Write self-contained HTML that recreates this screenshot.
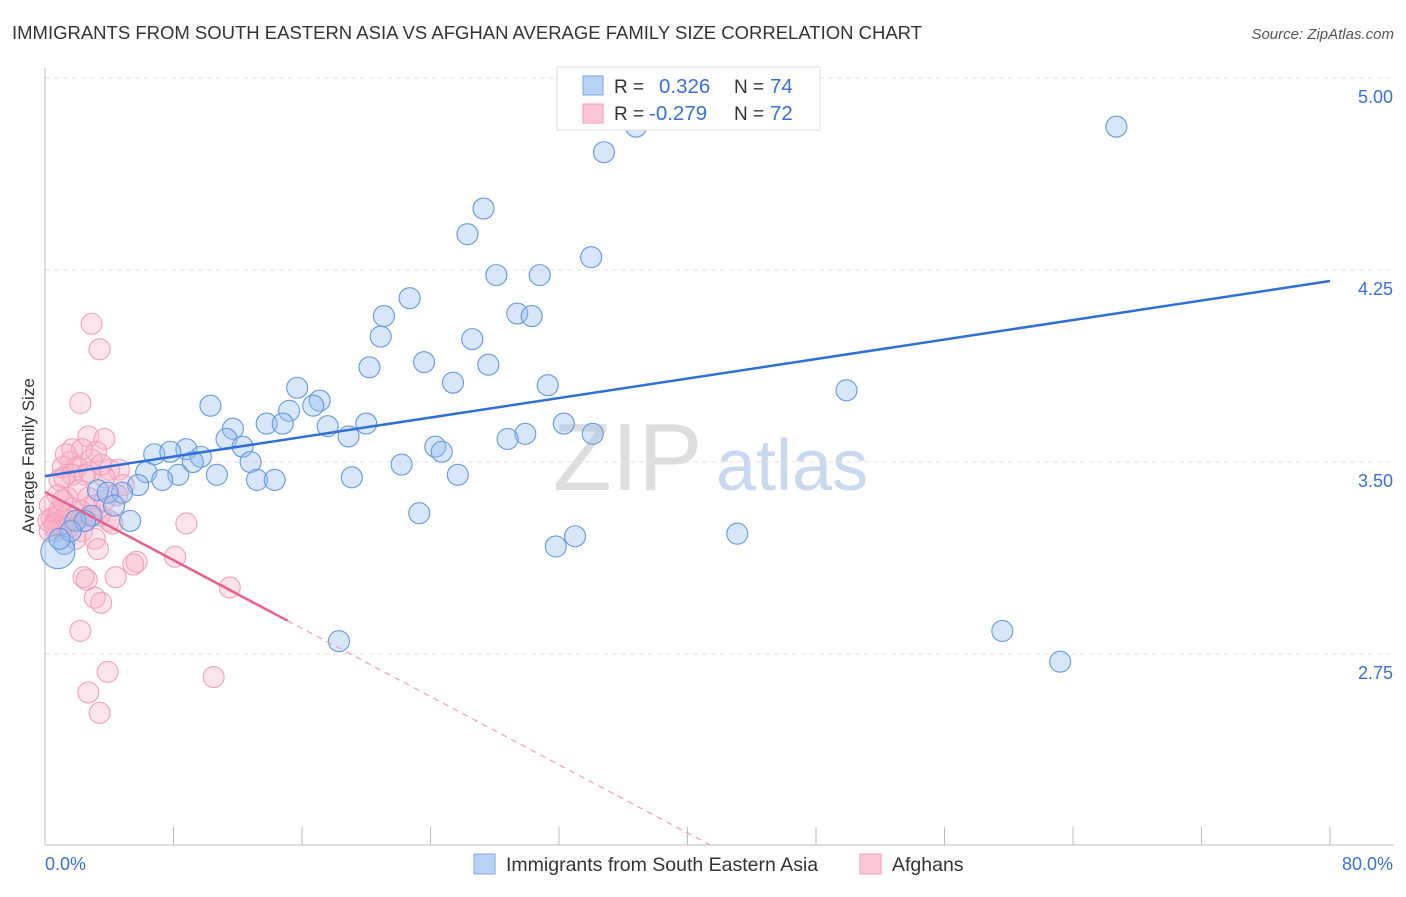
<!DOCTYPE html>
<html><head><meta charset="utf-8"><style>
body{margin:0;background:#fff;font-family:"Liberation Sans",sans-serif;}
svg text{font-family:"Liberation Sans",sans-serif;}
</style></head><body>
<svg id="chart" width="1406" height="892" xmlns="http://www.w3.org/2000/svg">
<text x="12" y="39" font-size="18.6" fill="#333" textLength="910" lengthAdjust="spacingAndGlyphs">IMMIGRANTS FROM SOUTH EASTERN ASIA VS AFGHAN AVERAGE FAMILY SIZE CORRELATION CHART</text>
<text x="1394" y="39" font-size="15" fill="#555" font-style="italic" text-anchor="end">Source: ZipAtlas.com</text>
<text x="553" y="490" font-size="96" fill="#ddd" font-family="Liberation Serif">ZIP</text>
<text x="716" y="490" font-size="72" fill="#c8d8ee">atlas</text>
<text transform="translate(34,456) rotate(-90)" font-size="17" fill="#333" text-anchor="middle">Average Family Size</text>
<g id="grid"></g><g id="axes"></g><g id="pts"></g><g id="lines"></g>
<g>
<rect x="557" y="67" width="263" height="63" fill="#fff" stroke="#ddd"/>
<rect x="583" y="76" width="20" height="19" fill="#b8d2f4" stroke="#7aa6e6"/>
<rect x="583" y="104" width="20" height="19" fill="#fcc6d6" stroke="#f09ab5"/>
<text x="614" y="93" font-size="19" fill="#333">R =</text><text x="659" y="93" font-size="20.5" fill="#3a6fd8">0.326</text>
<text x="734" y="93" font-size="19" fill="#333">N =</text><text x="770" y="93" font-size="20.5" fill="#3a6fd8">74</text>
<text x="614" y="120" font-size="19" fill="#333">R =</text><text x="649" y="120" font-size="20.5" fill="#3a6fd8">-0.279</text>
<text x="734" y="120" font-size="19" fill="#333">N =</text><text x="770" y="120" font-size="20.5" fill="#3a6fd8">72</text>
</g>
<g>
<rect x="474" y="854" width="21" height="20" fill="#b8d2f4" stroke="#7aa6e6"/>
<text x="506" y="871" font-size="19.5" fill="#333">Immigrants from South Eastern Asia</text>
<rect x="860" y="854" width="21" height="20" fill="#fcc6d6" stroke="#f09ab5"/>
<text x="892" y="871" font-size="19.5" fill="#333">Afghans</text>
</g>
<text x="45" y="870" font-size="18" fill="#3a6fd8">0.0%</text>
<text x="1393" y="870" font-size="18" fill="#3a6fd8" text-anchor="end">80.0%</text>
</svg>
<script>
const yTicks=[5.00,4.25,3.50,2.75];
const blueX=[36.8,66.7,34.8,27.3,26.3,34.0,28.1,30.8,22.7,21.1,29.4,30.3,20.9,26.6,23.6,27.6,20.2,25.4,31.3,49.9,15.7,17.1,16.7,10.3,15.2,13.8,14.8,20.0,17.6,11.7,32.3,34.1,29.9,11.3,18.9,28.8,24.3,24.7,8.8,6.8,7.8,12.3,9.7,9.2,12.8,22.2,6.3,10.7,8.3,7.3,19.1,25.7,13.2,14.3,5.8,3.3,4.8,3.9,4.3,23.3,2.9,5.3,1.9,43.1,33.0,31.8,1.2,0.8,59.6,63.2,18.3,2.5,1.6,0.9];
const blueY=[4.81,4.81,4.71,4.49,4.39,4.30,4.23,4.23,4.14,4.07,4.08,4.07,3.99,3.98,3.89,3.88,3.87,3.81,3.80,3.78,3.79,3.74,3.72,3.72,3.70,3.65,3.65,3.65,3.64,3.63,3.65,3.61,3.61,3.59,3.60,3.59,3.56,3.54,3.55,3.53,3.54,3.56,3.52,3.50,3.50,3.49,3.46,3.45,3.45,3.43,3.44,3.45,3.43,3.43,3.41,3.39,3.38,3.38,3.33,3.30,3.29,3.27,3.27,3.22,3.21,3.17,3.18,3.15,2.84,2.72,2.80,3.27,3.23,3.20];
const pinkX=[2.9,3.4,2.2,2.7,3.7,1.7,3.2,2.3,1.6,2.9,4.0,4.6,2.0,1.1,1.2,1.7,2.5,3.7,0.9,2.8,1.4,2.7,0.8,0.3,1.7,3.1,2.2,0.8,0.4,1.2,0.2,0.6,1.1,1.6,0.7,2.5,3.4,4.0,4.9,4.2,8.8,0.6,3.1,3.3,8.1,5.7,5.5,2.4,2.6,4.4,3.1,3.5,11.5,2.2,3.9,10.5,2.7,3.4,1.4,1.9,0.9,0.3,2.1,1.3,3.5,1.9,2.8,1.1,2.3,3.7,4.5];
const pinkY=[4.04,3.94,3.73,3.60,3.59,3.55,3.54,3.55,3.50,3.51,3.47,3.47,3.48,3.48,3.44,3.45,3.45,3.44,3.43,3.46,3.36,3.36,3.37,3.33,3.32,3.33,3.31,3.29,3.28,3.28,3.27,3.26,3.25,3.27,3.23,3.27,3.29,3.27,3.41,3.26,3.26,3.25,3.20,3.16,3.13,3.11,3.10,3.05,3.04,3.05,2.97,2.95,3.01,2.84,2.68,2.66,2.60,2.52,3.24,3.20,3.31,3.23,3.39,3.53,3.49,3.27,3.29,3.35,3.23,3.35,3.37];
const blueTrend=[3.445,4.207];
const pinkTrend=[3.383,-0.0333];
const NS='http://www.w3.org/2000/svg';
const X0=45,X1=1330,YB=845;
function sx(p){return X0+(X1-X0)*p/80;}
function sy(v){return 462-(v-3.5)*256;}
function mk(tag,attrs,parent){const e=document.createElementNS(NS,tag);for(const k in attrs)e.setAttribute(k,attrs[k]);document.getElementById(parent).appendChild(e);return e;}
yTicks.forEach(t=>{
 const g=mk('line',{x1:X0,x2:1394,y1:sy(t),y2:sy(t),stroke:'#e2e2e2','stroke-dasharray':'5,4'},'grid');
 
 
 const l=mk('text',{x:1393,y:sy(t)+25,'font-size':18,fill:'#3a6fd8','text-anchor':'end'},'grid');
 l.textContent=t.toFixed(2);
 
 
});
const ax=mk('line',{x1:X0,x2:X0,y1:68,y2:YB,stroke:'#bbb'},'axes');


const bx=mk('line',{x1:X0,x2:1394,y1:YB,y2:YB,stroke:'#bbb'},'axes');


for(let i=0;i<=10;i++){const t=mk('line',{x1:sx(i*8),x2:sx(i*8),y1:YB,y2:YB-18,stroke:'#bbb'},'axes');
 
 }
function dots(xs,ys,fill,stroke,name){xs.forEach((x,i)=>{
 const big=(name==='blue-point'&&i===67);
 const c=mk('circle',{cx:sx(x),cy:sy(ys[i]),r:big?17:10.5,fill:fill,stroke:stroke,'stroke-width':1.1},'pts');
 
 
});}
dots(pinkX,pinkY,'rgba(248,175,198,0.35)','#f2a0b9','pink-point');
dots(blueX,blueY,'rgba(150,190,240,0.38)','#6498de','blue-point');
const bl=mk('line',{x1:sx(0),y1:sy(blueTrend[0]),x2:sx(80),y2:sy(blueTrend[1]),stroke:'#2f6fd6','stroke-width':2.5},'lines');


const pe=15.1,pz=(pinkTrend[0]-2.004)/(-pinkTrend[1]);
const pl=mk('line',{x1:sx(0),y1:sy(pinkTrend[0]),x2:sx(pe),y2:sy(pinkTrend[0]+pinkTrend[1]*pe),stroke:'#e8608a','stroke-width':2.5},'lines');


const pd=mk('line',{x1:sx(pe),y1:sy(pinkTrend[0]+pinkTrend[1]*pe),x2:sx(pz),y2:sy(pinkTrend[0]+pinkTrend[1]*pz),stroke:'#f0a0b8','stroke-width':1.2,'stroke-dasharray':'6,5'},'lines');


</script>
</body></html>
